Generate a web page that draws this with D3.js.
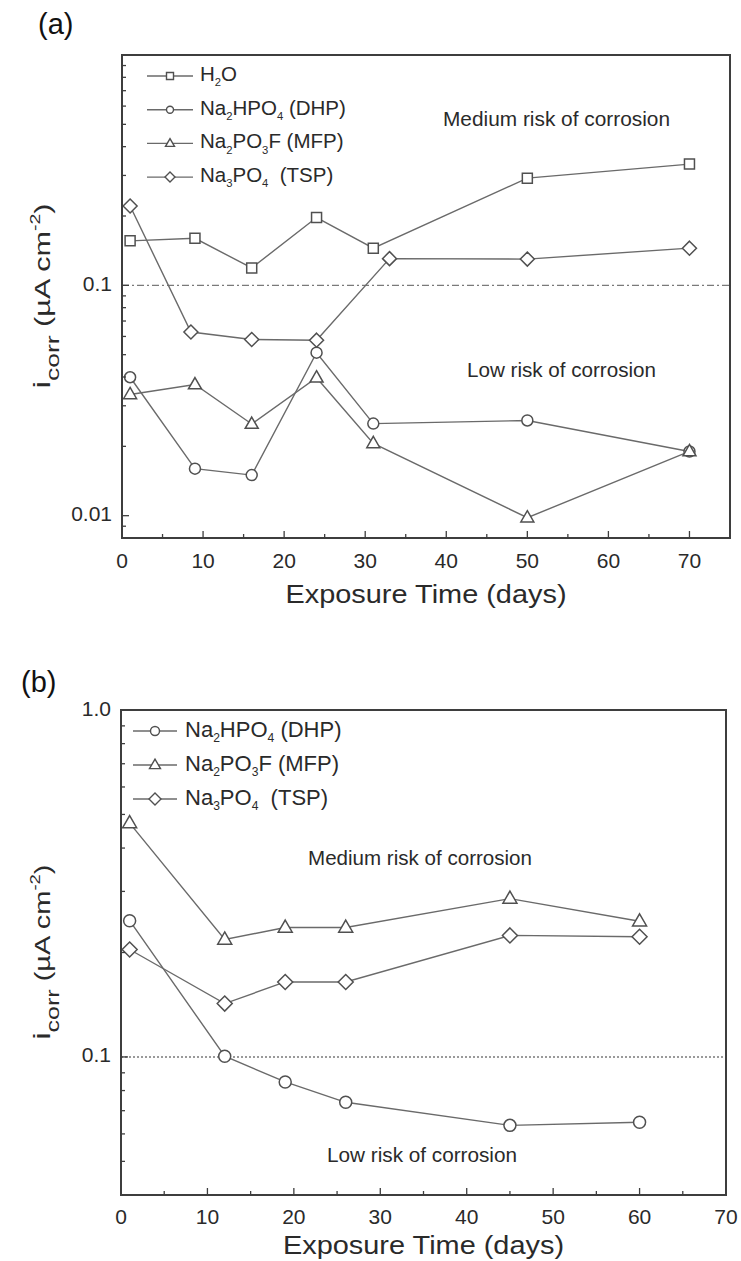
<!DOCTYPE html>
<html>
<head>
<meta charset="utf-8">
<script src="https://cdn.jsdelivr.net/npm/d3@7"></script>
<style>
  html, body { margin: 0; padding: 0; background: #fff; }
  svg { display: block; }
  text { font-family: "Liberation Sans", Arial, sans-serif; }
  .pre { white-space: pre; }
</style>
</head>
<body>
<svg id="chart" width="741" height="1261"></svg>
<script>
// ---- Panel (a): corrosion current density vs exposure time ----
const daysA = [1, 9, 16, 24, 31, 50, 70];
const daysA_TSP = [1, 8.5, 16, 24, 33, 50, 70];
const icorrA_H2O = [0.156, 0.160, 0.119, 0.197, 0.145, 0.292, 0.336];
const icorrA_DHP = [0.0399, 0.0160, 0.0150, 0.0510, 0.0251, 0.0259, 0.0190];
const icorrA_MFP = [0.0336, 0.0371, 0.0250, 0.0397, 0.0206, 0.0098, 0.0190];
const icorrA_TSP = [0.221, 0.0627, 0.0582, 0.0578, 0.1306, 0.130, 0.145];

// ---- Panel (b) ----
const daysB = [1, 12, 19, 26, 45, 60];
const icorrB_DHP = [0.247, 0.1005, 0.0847, 0.074, 0.0635, 0.0648];
const icorrB_MFP = [0.472, 0.218, 0.236, 0.236, 0.286, 0.246];
const icorrB_TSP = [0.204, 0.1425, 0.1645, 0.1645, 0.224, 0.222];

const xTicksA = [0, 10, 20, 30, 40, 50, 60, 70];
const xTicksB = [0, 10, 20, 30, 40, 50, 60, 70];
const yLabelsA = [0.01, 0.1];
const yLabelsB = [0.1, 1.0];
const riskThreshold = 0.1;

const svg = d3.select("#chart");
const LINE = "#6a6a6a", MARK = "#505050", FRAME = "#3e3e3e", TXT = "#2a2a2a";

// marker path builders (centered at 0,0)
const markerPath = {
  square: s => `M${-s/2},${-s/2}h${s}v${s}h${-s}Z`,
  circle: s => { const r = s/2; return `M${r},0A${r},${r} 0 1,1 ${-r},0A${r},${r} 0 1,1 ${r},0Z`; },
  triangle: s => { const h = s*0.87; return `M0,${-h*0.62}L${s/2},${h*0.38}L${-s/2},${h*0.38}Z`; },
  diamond: s => `M0,${-s/2}L${s/2},0L0,${s/2}L${-s/2},0Z`
};

// writes a formula label: plain strings at base size, {sub} parts lowered and small
function formula(t, parts, fs) {
  let shift = 0;
  parts.forEach(p => {
    const ts = t.append("tspan");
    if (typeof p === "string") {
      ts.attr("dy", -shift).text(p);
      shift = 0;
    } else {
      const d = fs * 0.35;
      ts.attr("font-size", fs * 0.55).attr("dy", d - shift).text(p.sub);
      shift = d;
    }
  });
}

function yTitle(x, cy, len) {
  const t = svg.append("text")
    .attr("transform", `translate(${x},${cy}) rotate(-90)`)
    .attr("text-anchor", "middle").attr("fill", TXT)
    .attr("font-size", 24)
    .attr("textLength", len).attr("lengthAdjust", "spacingAndGlyphs");
  t.append("tspan").text("i");
  t.append("tspan").attr("font-size", 19).attr("dy", 9).text("corr");
  t.append("tspan").attr("dy", -9).attr("font-size", 22).text(" (\u00B5A cm");
  t.append("tspan").attr("font-size", 14).attr("dy", -10).text("-2");
  t.append("tspan").attr("dy", 10).attr("font-size", 22).text(")");
}

function panel(opt) {
  const {left, right, top, bottom, xDomain, yDomain, xTicks, yLabels, yFmt,
         series, legend, thresholdDash, notes, xTitleY, tickLabelY} = opt;
  const x = d3.scaleLinear().domain(xDomain).range([left, right]);
  const y = d3.scaleLog().domain(yDomain).range([bottom, top]);
  const g = svg.append("g");

  // threshold line between low and medium risk
  g.append("line")
    .attr("x1", left).attr("x2", right)
    .attr("y1", y(riskThreshold)).attr("y2", y(riskThreshold))
    .attr("stroke", "#7a7a7a").attr("stroke-width", 1.4)
    .attr("stroke-dasharray", thresholdDash);

  // series lines and markers
  const line = d3.line().x(d => x(d[0])).y(d => y(d[1]));
  series.forEach(s => {
    const pts = s.days.map((d, i) => [d, s.vals[i]]);
    g.append("path").datum(pts).attr("d", line)
      .attr("fill", "none").attr("stroke", LINE).attr("stroke-width", 1.4);
    g.selectAll(null).data(pts).enter().append("path")
      .attr("transform", d => `translate(${x(d[0])},${y(d[1])})`)
      .attr("d", markerPath[s.shape](s.size))
      .attr("fill", "#fff").attr("stroke", MARK).attr("stroke-width", 1.5);
  });

  // frame
  g.append("rect").attr("x", left).attr("y", top)
    .attr("width", right - left).attr("height", bottom - top)
    .attr("fill", "none").attr("stroke", FRAME).attr("stroke-width", 2);

  // x ticks (inside), major and minor
  const xMinor = d3.range(xDomain[0], xDomain[1] + 0.001, 5);
  g.selectAll(null).data(xMinor).enter().append("line")
    .attr("x1", d => x(d)).attr("x2", d => x(d))
    .attr("y1", bottom).attr("y2", d => bottom - (d % 10 === 0 ? 7 : 4))
    .attr("stroke", FRAME).attr("stroke-width", 1.3);
  g.selectAll(null).data(xTicks).enter().append("text")
    .attr("x", d => x(d)).attr("y", tickLabelY)
    .attr("text-anchor", "middle").attr("font-size", 21).attr("fill", TXT)
    .text(d => d);

  // y ticks (log, inside)
  const yt = y.ticks().filter(v => v >= yDomain[0] && v <= yDomain[1]);
  g.selectAll(null).data(yt).enter().append("line")
    .attr("x1", left).attr("x2", d => left + (yLabels.some(l => Math.abs(l - d) < 1e-9) ? 7 : 4))
    .attr("y1", d => y(d)).attr("y2", d => y(d))
    .attr("stroke", FRAME).attr("stroke-width", 1.3);
  g.selectAll(null).data(yLabels).enter().append("text")
    .attr("x", left - 10).attr("y", d => y(d))
    .attr("text-anchor", "end").attr("dominant-baseline", "middle")
    .attr("font-size", 21).attr("fill", TXT)
    .text(yFmt);

  // x title
  g.append("text").attr("x", (left + right) / 2).attr("y", xTitleY)
    .attr("text-anchor", "middle").attr("font-size", 25).attr("fill", TXT)
    .attr("textLength", 281).attr("lengthAdjust", "spacingAndGlyphs")
    .text("Exposure Time (days)");

  // risk annotations
  notes.forEach(n => {
    g.append("text").attr("x", n.x).attr("y", n.y)
      .attr("dominant-baseline", "middle").attr("font-size", 20.5).attr("fill", TXT)
      .attr("textLength", n.len).attr("lengthAdjust", "spacingAndGlyphs")
      .text(n.text);
  });

  // legend
  legend.rows.forEach((r, i) => {
    const ly = legend.y0 + i * legend.dy;
    g.append("line").attr("x1", legend.x1).attr("x2", legend.x2)
      .attr("y1", ly).attr("y2", ly).attr("stroke", LINE).attr("stroke-width", 1.4);
    g.append("path").attr("transform", `translate(${(legend.x1 + legend.x2) / 2},${ly})`)
      .attr("d", markerPath[r.shape](r.size))
      .attr("fill", "#fff").attr("stroke", MARK).attr("stroke-width", 1.4);
    const t = g.append("text").attr("class", "pre").attr("x", legend.tx).attr("y", ly)
      .attr("dominant-baseline", "middle").attr("font-size", legend.fs).attr("fill", TXT);
    formula(t, r.label, legend.fs);
  });
}

// panel labels
svg.append("text").attr("x", 38).attr("y", 34)
  .attr("font-family", "Liberation Serif, Times New Roman, serif")
  .attr("font-size", 29).attr("fill", "#111").text("(a)");
svg.append("text").attr("x", 21).attr("y", 692)
  .attr("font-family", "Liberation Serif, Times New Roman, serif")
  .attr("font-size", 29).attr("fill", "#111").text("(b)");

panel({
  left: 122, right: 730, top: 55, bottom: 538,
  xDomain: [0, 75], yDomain: [0.008, 1],
  xTicks: xTicksA, yLabels: yLabelsA, yFmt: d => d === 0.01 ? "0.01" : "0.1",
  tickLabelY: 568, xTitleY: 603,
  thresholdDash: "7,3,2,3",
  series: [
    {days: daysA, vals: icorrA_H2O, shape: "square", size: 10},
    {days: daysA, vals: icorrA_DHP, shape: "circle", size: 11},
    {days: daysA, vals: icorrA_MFP, shape: "triangle", size: 13},
    {days: daysA_TSP, vals: icorrA_TSP, shape: "diamond", size: 14}
  ],
  notes: [
    {text: "Medium risk of corrosion", x: 443, y: 121, len: 227},
    {text: "Low risk of corrosion", x: 467, y: 372, len: 189}
  ],
  legend: {
    x1: 147, x2: 193, tx: 200, y0: 76, dy: 33.7, fs: 20.5,
    rows: [
      {shape: "square", size: 7, label: ["H", {sub: "2"}, "O"]},
      {shape: "circle", size: 7, label: ["Na", {sub: "2"}, "HPO", {sub: "4"}, " (DHP)"]},
      {shape: "triangle", size: 9, label: ["Na", {sub: "2"}, "PO", {sub: "3"}, "F (MFP)"]},
      {shape: "diamond", size: 10, label: ["Na", {sub: "3"}, "PO", {sub: "4"}, "  (TSP)"]}
    ]
  }
});

panel({
  left: 121, right: 726, top: 710, bottom: 1195,
  xDomain: [0, 70], yDomain: [0.04, 1],
  xTicks: xTicksB, yLabels: yLabelsB, yFmt: d => d.toFixed(1),
  tickLabelY: 1224, xTitleY: 1254,
  thresholdDash: "2,2",
  series: [
    {days: daysB, vals: icorrB_DHP, shape: "circle", size: 12},
    {days: daysB, vals: icorrB_MFP, shape: "triangle", size: 14},
    {days: daysB, vals: icorrB_TSP, shape: "diamond", size: 15}
  ],
  notes: [
    {text: "Medium risk of corrosion", x: 308, y: 860, len: 224},
    {text: "Low risk of corrosion", x: 327, y: 1157, len: 190}
  ],
  legend: {
    x1: 133, x2: 177, tx: 185, y0: 731, dy: 34, fs: 22,
    rows: [
      {shape: "circle", size: 9, label: ["Na", {sub: "2"}, "HPO", {sub: "4"}, " (DHP)"]},
      {shape: "triangle", size: 11, label: ["Na", {sub: "2"}, "PO", {sub: "3"}, "F (MFP)"]},
      {shape: "diamond", size: 12, label: ["Na", {sub: "3"}, "PO", {sub: "4"}, "  (TSP)"]}
    ]
  }
});

yTitle(50, 296, 185);
yTitle(50, 952, 175);
</script>
</body>
</html>
